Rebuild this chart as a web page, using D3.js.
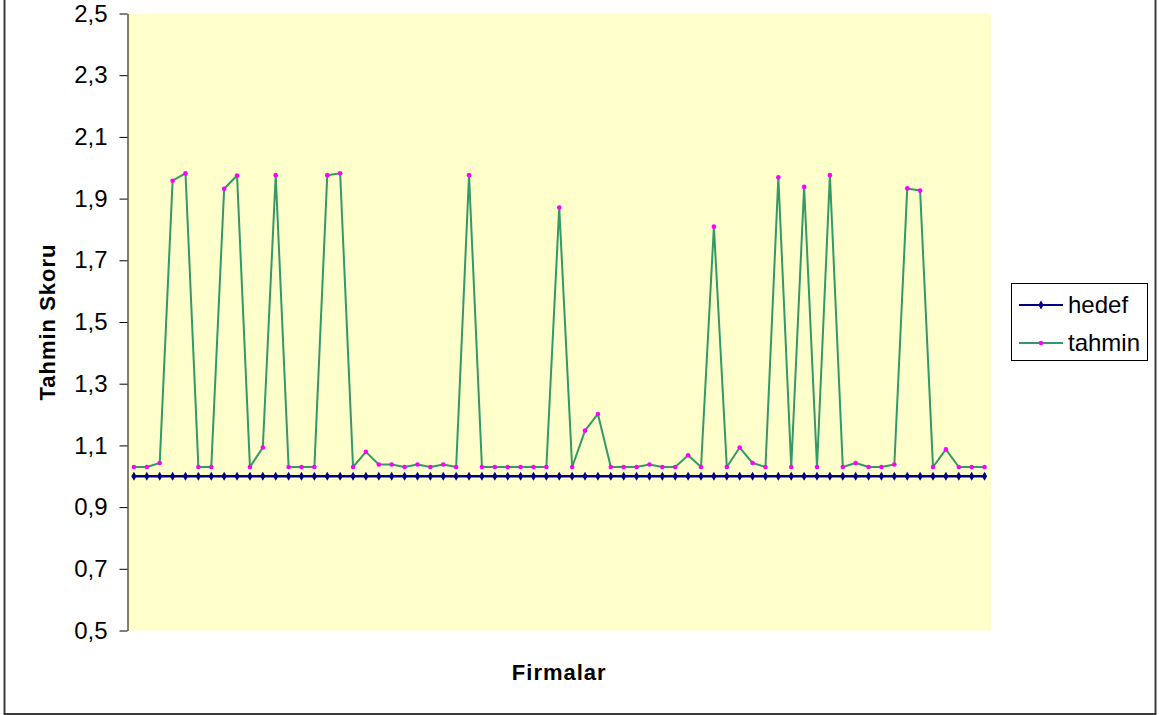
<!DOCTYPE html>
<meta charset="utf-8">
<head>
  <script src="https://d3js.org/d3.v7.min.js"></script>
</head>
<style>
  body { margin: 0; background: #fff; }
  text { font-family: Arial, "Liberation Sans", sans-serif; }
  .tick text { font-size: 24px; fill: #000; }
</style>
<body>
<script>
  // data
  var firms = d3.range(1, 68);
  var hedef = firms.map(function () { return 1.0; });
  var tahmin = [
    1.030, 1.030, 1.043, 1.958, 1.982, 1.030, 1.030, 1.932, 1.975, 1.030,
    1.093, 1.976, 1.030, 1.030, 1.030, 1.976, 1.982, 1.030, 1.079, 1.038,
    1.038, 1.030, 1.038, 1.030, 1.038, 1.030, 1.976, 1.030, 1.030, 1.030,
    1.030, 1.030, 1.030, 1.871, 1.030, 1.148, 1.202, 1.030, 1.030, 1.030,
    1.038, 1.030, 1.030, 1.068, 1.030, 1.809, 1.030, 1.093, 1.043, 1.030,
    1.969, 1.030, 1.938, 1.030, 1.976, 1.030, 1.043, 1.030, 1.030, 1.038,
    1.933, 1.926, 1.030, 1.087, 1.030, 1.030, 1.030
  ];
  var yTicks = [0.5, 0.7, 0.9, 1.1, 1.3, 1.5, 1.7, 1.9, 2.1, 2.3, 2.5];
  var seriesNames = ["hedef", "tahmin"];

  var W = 1159, H = 715;
  var plot = { left: 127.5, right: 991, top: 13.5, bottom: 630.5 };

  var svg = d3.select("body").append("svg")
    .attr("width", W)
    .attr("height", H);

  // outer chart frame
  svg.append("rect")
    .attr("x", 4.5).attr("y", -2)
    .attr("width", 1151).attr("height", 716)
    .attr("fill", "none")
    .attr("stroke", "#3a3a3a")
    .attr("stroke-width", 2);

  var x = d3.scalePoint()
    .domain(firms)
    .range([plot.left, plot.right])
    .padding(0.5);

  var y = d3.scaleLinear()
    .domain([0.5, 2.5])
    .range([plot.bottom, plot.top]);

  var comma = d3.formatLocale({ decimal: ",", thousands: ".", grouping: [3], currency: ["", ""] });

  // plot area
  svg.append("rect")
    .attr("x", plot.left).attr("y", plot.top)
    .attr("width", plot.right - plot.left)
    .attr("height", plot.bottom - plot.top)
    .attr("fill", "#ffffcc");

  // y axis
  var yAxis = svg.append("g")
    .attr("transform", "translate(" + plot.left + ",0)")
    .call(d3.axisLeft(y).tickValues(yTicks).tickFormat(comma.format(".1f"))
      .tickSize(8).tickSizeOuter(0).tickPadding(12));
  yAxis.select(".domain").attr("stroke", "#000");
  yAxis.selectAll(".tick line").attr("stroke", "#000");
  yAxis.selectAll(".tick text").attr("font-family", null);

  // series
  var lineH = d3.line().x(function (d, i) { return x(firms[i]); }).y(function (d) { return y(d); });

  svg.append("path")
    .datum(hedef)
    .attr("d", lineH)
    .attr("fill", "none")
    .attr("stroke", "#000080")
    .attr("stroke-width", 2.5);

  svg.append("g").selectAll("path")
    .data(hedef)
    .join("path")
    .attr("d", d3.symbol(d3.symbolDiamond, 24))
    .attr("transform", function (d, i) { return "translate(" + x(firms[i]) + "," + y(d) + ")"; })
    .attr("fill", "#000080");

  svg.append("path")
    .datum(tahmin)
    .attr("d", lineH)
    .attr("fill", "none")
    .attr("stroke", "#339966")
    .attr("stroke-width", 2)
    .attr("stroke-linejoin", "round");

  svg.append("g").selectAll("circle")
    .data(tahmin)
    .join("circle")
    .attr("cx", function (d, i) { return x(firms[i]); })
    .attr("cy", function (d) { return y(d); })
    .attr("r", 2.3)
    .attr("fill", "#ff00ff");

  // axis titles
  svg.append("text")
    .attr("x", (plot.left + plot.right) / 2)
    .attr("y", 680)
    .attr("text-anchor", "middle")
    .attr("font-size", 22)
    .attr("font-weight", "bold")
    .attr("letter-spacing", 1)
    .text("Firmalar");

  svg.append("text")
    .attr("transform", "translate(55," + (plot.top + plot.bottom) / 2 + ") rotate(-90)")
    .attr("text-anchor", "middle")
    .attr("font-size", 22)
    .attr("font-weight", "bold")
    .attr("letter-spacing", 1)
    .text("Tahmin Skoru");

  // legend
  var legend = svg.append("g");
  legend.append("rect")
    .attr("x", 1011.5).attr("y", 283.5)
    .attr("width", 136).attr("height", 77)
    .attr("fill", "#fff")
    .attr("stroke", "#000")
    .attr("stroke-width", 1);

  var colors = { hedef: "#000080", tahmin: "#339966" };
  var markerColors = { hedef: "#000080", tahmin: "#ff00ff" };
  seriesNames.forEach(function (name, i) {
    var ly = 305 + i * 38;
    legend.append("line")
      .attr("x1", 1019).attr("x2", 1063)
      .attr("y1", ly).attr("y2", ly)
      .attr("stroke", colors[name])
      .attr("stroke-width", 2);
    if (name === "hedef") {
      legend.append("path")
        .attr("d", d3.symbol(d3.symbolDiamond, 24))
        .attr("transform", "translate(1041," + ly + ")")
        .attr("fill", markerColors[name]);
    } else {
      legend.append("circle")
        .attr("cx", 1041).attr("cy", ly).attr("r", 2.3)
        .attr("fill", markerColors[name]);
    }
    legend.append("text")
      .attr("x", 1068).attr("y", ly)
      .attr("dy", "0.35em")
      .attr("font-size", 24)
      .text(name);
  });
</script>
</body>
